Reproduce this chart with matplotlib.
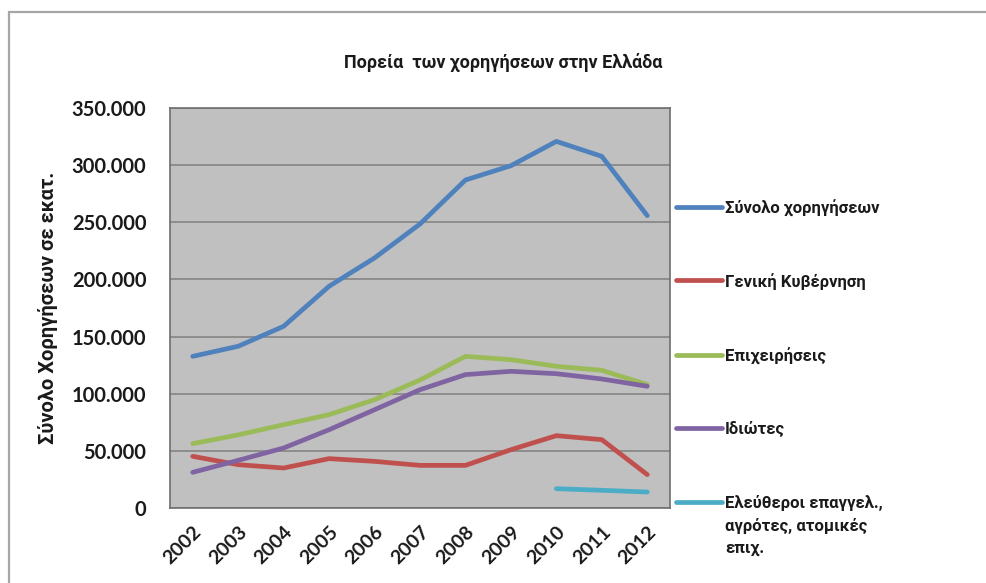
"""Course of bank loans in Greece, 2002-2012."""

import matplotlib

matplotlib.use("Agg")
import matplotlib.pyplot as plt
import numpy as np
from matplotlib.lines import Line2D
from matplotlib.patches import Rectangle
from matplotlib.ticker import FuncFormatter, MultipleLocator

plt.rcParams["font.family"] = ["Lato", "Roboto", "DejaVu Sans"]
plt.rcParams["font.weight"] = "bold"
GREEK = ["Roboto", "DejaVu Sans"]

years = ["2002", "2003", "2004", "2005", "2006", "2007",
         "2008", "2009", "2010", "2011", "2012"]

# values in million euro
total_loans = [132700, 141500, 159000, 194000, 218800, 248500,
               287000, 299500, 320800, 307700, 255800]
general_government = [45200, 37900, 35000, 43200, 40800, 37300,
                      37300, 51000, 63300, 59800, 29200]
businesses = [56300, 64000, 72900, 81700, 94800, 112000,
              132700, 129800, 124000, 120500, 108000]
households = [31200, 41700, 52500, 68500, 86000, 103500,
              116700, 119600, 117500, 112900, 106500]
self_employed = [np.nan, np.nan, np.nan, np.nan, np.nan, np.nan,
                 np.nan, np.nan, 16900, 15500, 14000]

series_labels = [
    "Σύνολο χορηγήσεων",
    "Γενική Κυβέρνηση",
    "Επιχειρήσεις",
    "Ιδιώτες",
    "Ελεύθεροι επαγγελ.,\nαγρότες, ατομικές\nεπιχ.",
]
series_values = [total_loans, general_government, businesses,
                 households, self_employed]
series_colors = ["#4F81BD", "#C0504D", "#9BBB59", "#8064A2", "#4BACC6"]


def thousands_dot(value, _pos):
    return f"{int(round(value)):,}".replace(",", ".")


fig = plt.figure(figsize=(9.87, 5.83), dpi=100)
fig.patch.set_facecolor("white")

# outer chart frame, running off the right and bottom edges
fig.add_artist(Rectangle((9 / 987, -0.2), 1.5, 1.2 - 12 / 583,
                         transform=fig.transFigure, fill=False,
                         edgecolor="#A6A6A6", linewidth=1.6))

ax = fig.add_axes([170 / 987, 75 / 583, 500 / 987, 400 / 583])
ax.set_facecolor("#C0C0C0")

x = np.arange(len(years))
for values, color in zip(series_values, series_colors):
    ax.plot(x, values, color=color, linewidth=3.4,
            solid_capstyle="round", solid_joinstyle="round")

ax.set_xlim(-0.5, len(years) - 0.5)
ax.set_ylim(0, 350000)
ax.yaxis.set_major_locator(MultipleLocator(50000))
ax.yaxis.set_major_formatter(FuncFormatter(thousands_dot))
ax.grid(axis="y", color="#7F7F7F", linewidth=1.1)
ax.set_axisbelow(True)

ax.set_xticks(x)
ax.set_xticklabels(years, rotation=45, ha="right", va="top",
                   rotation_mode="anchor")
ax.tick_params(axis="x", length=0, pad=11, labelsize=14,
               labelcolor="#1A1A1A")
ax.tick_params(axis="y", length=0, pad=17, labelsize=14.5,
               labelcolor="#1A1A1A")
for spine in ax.spines.values():
    spine.set_color("#6E6E6E")
    spine.set_linewidth(1.2)

ax.set_ylabel("Σύνολο Χορηγήσεων σε εκατ.", fontsize=14.5,
              fontweight="bold", family=GREEK, labelpad=10,
              color="#1A1A1A")

fig.text(503 / 987, 1 - 62 / 583, "Πορεία  των χορηγήσεων στην Ελλάδα",
         ha="center", va="center", fontsize=13, fontweight="bold",
         family=GREEK, color="#1A1A1A")

# legend drawn down the right side, one entry per series
legend_rows = [207, 280, 355, 428, 502]
for label, color, row in zip(series_labels, series_colors, legend_rows):
    y = 1 - row / 583
    fig.add_artist(Line2D([676 / 987, 722 / 987], [y, y],
                          transform=fig.transFigure, color=color,
                          linewidth=3.4, solid_capstyle="round"))
    fig.text(725 / 987, y + 7 / 583, label, ha="left", va="top",
             fontsize=12, fontweight="bold", family=GREEK,
             color="#1A1A1A", linespacing=1.55)

fig.savefig("out.png", dpi=100)
plt.close(fig)
